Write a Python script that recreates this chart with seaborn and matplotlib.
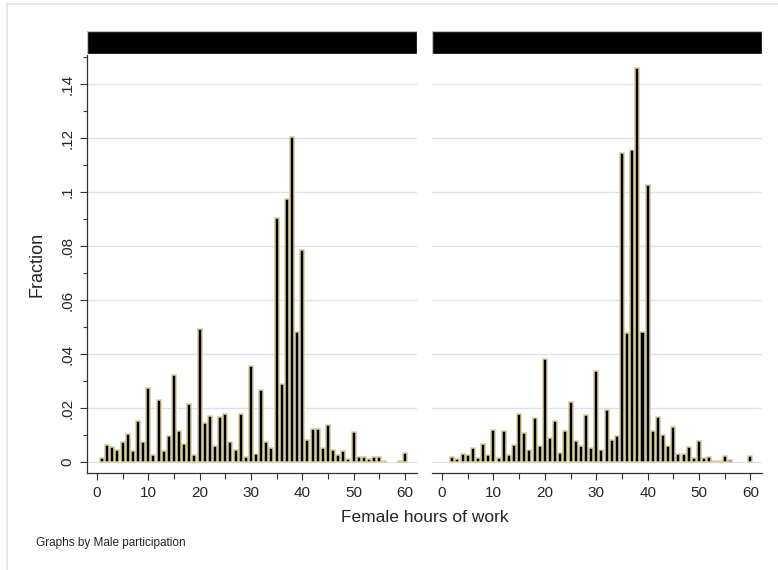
import numpy as np
import pandas as pd
import matplotlib
matplotlib.use("Agg")
import matplotlib.pyplot as plt
from matplotlib.patches import Rectangle
from matplotlib.lines import Line2D
from matplotlib.ticker import MultipleLocator, FixedLocator
import seaborn as sns

# hours of work, one bar per integer value
hours = list(range(0, 61))

# fraction per hour, Male participation = 0 (left panel)
frac_left = [0.0, 0.0015, 0.0062, 0.0056, 0.0046, 0.0075, 0.0104, 0.0040, 0.0154, 0.0074,
             0.0274, 0.0026, 0.0231, 0.0040, 0.0098, 0.0323, 0.0117, 0.0068, 0.0216, 0.0026,
             0.0495, 0.0144, 0.0173, 0.0060, 0.0167, 0.0179, 0.0074, 0.0046, 0.0180, 0.0019,
             0.0358, 0.0032, 0.0268, 0.0076, 0.0054, 0.0905, 0.0288, 0.0975, 0.1205, 0.0483,
             0.0785, 0.0083, 0.0123, 0.0123, 0.0054, 0.0138, 0.0047, 0.0026, 0.0040, 0.0012,
             0.0111, 0.0020, 0.0020, 0.0012, 0.0020, 0.0020, 0.0006, 0.0, 0.0, 0.0006,
             0.0033]

# fraction per hour, Male participation = 1 (right panel)
frac_right = [0.0, 0.0, 0.0019, 0.0011, 0.0032, 0.0025, 0.0054, 0.0016, 0.0067, 0.0025,
              0.0119, 0.0014, 0.0115, 0.0025, 0.0063, 0.0179, 0.0109, 0.0047, 0.0162, 0.0059,
              0.0381, 0.0091, 0.0151, 0.0036, 0.0115, 0.0222, 0.0078, 0.0060, 0.0174, 0.0052,
              0.0338, 0.0045, 0.0194, 0.0082, 0.0098, 0.1145, 0.0480, 0.1155, 0.1459, 0.0482,
              0.1026, 0.0115, 0.0168, 0.0102, 0.0061, 0.0131, 0.0030, 0.0031, 0.0057, 0.0016,
              0.0079, 0.0015, 0.0021, 0.0006, 0.0006, 0.0024, 0.0010, 0.0, 0.0, 0.0,
              0.0022]

y_ticks = [0, 0.02, 0.04, 0.06, 0.08, 0.1, 0.12, 0.14]
y_labels = ["0", ".02", ".04", ".06", ".08", ".1", ".12", ".14"]
x_ticks = [0, 10, 20, 30, 40, 50, 60]

sns.set_style("white")
plt.rcParams["font.family"] = ["Liberation Sans", "DejaVu Sans"]

W, H = 778, 570
fig = plt.figure(figsize=(W / 100, H / 100), dpi=100)

grid_col = "#DCE3EE"
spine_col = "#333333"
edge_col = "#D6CD9C"


def px_axes(x0, y0, x1, y1):
    # pixel box (top-left origin) -> figure fraction
    return [x0 / W, (H - y1) / H, (x1 - x0) / W, (y1 - y0) / H]


# light frame around the graph region
fig.add_artist(Line2D([7 / W, 7 / W], [0, 1 - 4 / H], color=grid_col, lw=1.2))
fig.add_artist(Line2D([7 / W, 1], [1 - 4 / H, 1 - 4 / H], color=grid_col, lw=1.2))

panels = [(frac_left, px_axes(86.7, 55, 416.7, 473.3), px_axes(86.7, 31, 416.7, 54.3), True),
          (frac_right, px_axes(431.7, 55, 762.3, 473.3), px_axes(431.7, 31, 762.3, 54.3), False)]

for frac, box, strip_box, first in panels:
    ax = fig.add_axes(box)
    df = pd.DataFrame({"hours": hours, "frac": frac})
    df = df[df["frac"] > 0]
    sns.barplot(data=df, x="hours", y="frac", native_scale=True, width=0.78,
                color="black", saturation=1, edgecolor=edge_col, linewidth=1.1,
                errorbar=None, ax=ax, zorder=3)

    ax.set_xlim(-2.0, 62.3)
    ax.set_ylim(-0.0041, 0.1508)

    for yv in y_ticks:
        ax.axhline(yv, color=grid_col, lw=1.0, zorder=1)

    ax.xaxis.set_major_locator(FixedLocator(x_ticks))
    ax.xaxis.set_minor_locator(MultipleLocator(5))
    ax.set_xticklabels([str(v) for v in x_ticks], fontsize=11)
    ax.tick_params(axis="x", which="major", length=5, width=0.8, color=spine_col, pad=4,
                   bottom=True)
    ax.tick_params(axis="x", which="minor", length=4, width=0.8, color=spine_col,
                   bottom=True)

    for s in ["top", "right"]:
        ax.spines[s].set_visible(False)
    ax.spines["bottom"].set_color(spine_col)
    ax.spines["bottom"].set_linewidth(0.9)
    if first:
        ax.spines["left"].set_color(spine_col)
        ax.spines["left"].set_linewidth(0.9)
        ax.yaxis.set_major_locator(FixedLocator(y_ticks))
        ax.yaxis.set_minor_locator(MultipleLocator(0.01))
        ax.set_yticklabels(y_labels, rotation=90, va="center", fontsize=11)
        ax.tick_params(axis="y", which="major", length=5, width=0.8, color=spine_col,
                       pad=4, left=True)
        ax.tick_params(axis="y", which="minor", length=3, width=0.8, color=spine_col,
                       left=True)
    else:
        ax.spines["left"].set_visible(False)
        ax.set_yticks([])
    ax.set_xlabel("")
    ax.set_ylabel("")

    # black strip header
    sax = fig.add_axes(strip_box)
    sax.add_patch(Rectangle((0, 0), 1, 1, transform=sax.transAxes, facecolor="black",
                            edgecolor="#B8BECB", lw=1.0))
    sax.set_xticks([])
    sax.set_yticks([])
    for s in sax.spines.values():
        s.set_visible(False)

fig.text(37 / W, 1 - 264 / H, "Fraction", rotation=90, ha="center", va="center",
         fontsize=13)
fig.text(424.5 / W, 1 - 518 / H, "Female hours of work", ha="center", va="center",
         fontsize=12.5)
fig.text(36 / W, 1 - 543 / H, "Graphs by Male participation", ha="left", va="center",
         fontsize=8.5)

fig.savefig("out.png", dpi=100)
